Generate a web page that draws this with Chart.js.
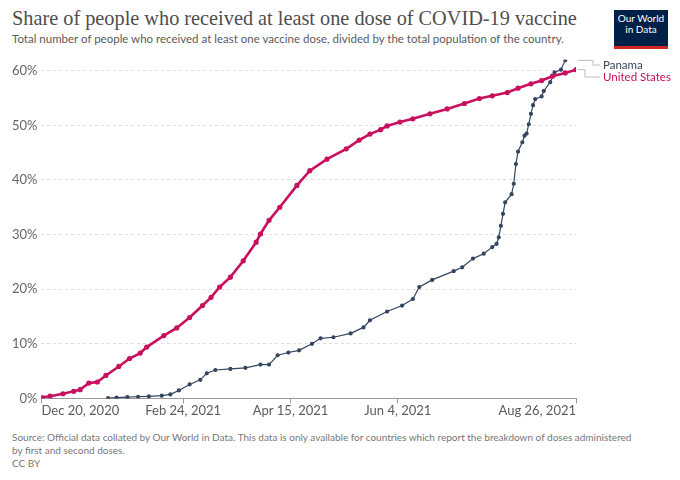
<!DOCTYPE html>
<html>
<head>
<meta charset="utf-8">
<script src="https://cdn.jsdelivr.net/npm/chart.js@4"></script>
<style>
  body { margin: 0; background: #fff; font-family: Lato, sans-serif; }
  #wrap { position: relative; width: 680px; height: 480px; overflow: hidden; }
  #title { position: absolute; left: 12px; top: 7px; font: 20.3px "Liberation Serif", serif; color: #4e4e4e; white-space: nowrap; }
  #subtitle { position: absolute; left: 12px; top: 32px; font-size: 11.5px; color: #5b5b5b; white-space: nowrap; }
  #logo { position: absolute; left: 614px; top: 10px; width: 54px; height: 33px; background: #002147; border-bottom: 3px solid #ce261e;
          color: #fff; font-size: 10px; line-height: 11px; text-align: center; padding-top: 3px; box-sizing: content-box; }
  #chartBox { position: absolute; left: 0; top: 48px; width: 680px; height: 380px; }
  #source { position: absolute; left: 12px; top: 431px; font-size: 10px; line-height: 13px; color: #777; width: 660px; }
</style>
</head>
<body>
<div id="wrap">
  <div id="title">Share of people who received at least one dose of COVID-19 vaccine</div>
  <div id="subtitle">Total number of people who received at least one vaccine dose, divided by the total population of the country.</div>
  <div id="logo">Our World<br>in Data</div>
  <div id="chartBox"><canvas id="vaxChart"></canvas></div>
  <div id="source">Source: Official data collated by Our World in Data. This data is only available for countries which report the breakdown of doses administered<br>by first and second doses.<br>CC BY</div>
</div>
<script>
// days counted from Dec 20, 2020
const xTickDays = [0, 66, 116, 166, 249];
const xTickLabels = ['Dec 20, 2020', 'Feb 24, 2021', 'Apr 15, 2021', 'Jun 4, 2021', 'Aug 26, 2021'];
const yTicks = [0, 10, 20, 30, 40, 50, 60];

const usDays = [0, 4, 10, 15, 18, 22, 26, 30, 36, 41, 46, 49, 57, 63, 69, 75, 79, 83, 88, 94,
  100, 102, 106, 111, 119, 125, 133, 142, 148, 153, 158, 161, 167, 173, 181, 189, 197, 204,
  210, 217, 222, 228, 233, 238, 244, 249];
const usShare = [0.2, 0.4, 0.85, 1.3, 1.6, 2.8, 3.0, 4.2, 5.85, 7.3, 8.3, 9.4, 11.5, 12.9, 14.8, 17.0, 18.5, 20.4, 22.2, 25.2,
  28.6, 30.1, 32.6, 35.0, 39.0, 41.7, 43.8, 45.7, 47.3, 48.4, 49.2, 49.9, 50.6, 51.2, 52.1, 53.0, 54.0, 54.9,
  55.4, 56.0, 56.8, 57.6, 58.2, 59.0, 59.6, 60.2];

const panamaDays = [31, 35, 40, 45, 50, 56, 60, 64, 69, 74, 77, 81, 88, 95, 102, 106, 110, 115, 120, 126,
  130, 136, 144, 150, 153, 161, 168, 173, 176, 182, 192, 196, 201, 206, 210, 212, 213, 214, 215, 216,
  219, 220, 221, 222, 224, 225, 226, 227, 228, 229, 230, 233, 234, 237, 239, 242, 244];
const panamaShare = [0.05, 0.15, 0.24, 0.3, 0.37, 0.5, 0.73, 1.46, 2.56, 3.4, 4.6, 5.2, 5.4, 5.6, 6.2, 6.2, 7.9, 8.4, 8.8, 10.0,
  11.0, 11.2, 11.9, 13.0, 14.3, 15.9, 17.0, 18.2, 20.4, 21.7, 23.3, 24.0, 25.6, 26.5, 27.7, 28.3, 29.5, 31.6, 33.8, 35.9,
  37.4, 39.3, 42.9, 45.2, 46.9, 48.1, 48.5, 50.2, 52.1, 53.7, 54.8, 55.3, 56.3, 57.9, 59.7, 60.2, 61.9];

const usColor = '#c8105e';
const panamaColor = '#34465f';

function toPoints(days, vals) {
    return days.map((d, i) => ({ x: d, y: vals[i] }));
}

// series names at the right end, with the little connector lines
const endLabels = {
    id: 'endLabels',
    afterDatasetsDraw(chart) {
        const ctx = chart.ctx;
        const right = chart.chartArea.right;
        const spots = [{ ds: 1, labelY: 17 }, { ds: 0, labelY: 29 }];
        ctx.save();
        ctx.font = '11.5px Lato';
        ctx.textBaseline = 'middle';
        spots.forEach(s => {
            const dataset = chart.data.datasets[s.ds];
            const pts = chart.getDatasetMeta(s.ds).data;
            const last = pts[pts.length - 1];
            const bendX = s.ds === 1 ? right + 17 : right + 9;
            ctx.strokeStyle = '#bbb';
            ctx.lineWidth = 1;
            ctx.beginPath();
            ctx.moveTo(right + 2, last.y);
            ctx.lineTo(bendX, last.y);
            ctx.lineTo(bendX, s.labelY);
            ctx.lineTo(right + 24, s.labelY);
            ctx.stroke();
            ctx.fillStyle = dataset.borderColor;
            ctx.fillText(dataset.label, right + 27, s.labelY);
        });
        ctx.restore();
    }
};

new Chart(document.getElementById('vaxChart'), {
    type: 'line',
    data: {
        datasets: [{
            label: 'United States',
            data: toPoints(usDays, usShare),
            borderColor: usColor,
            backgroundColor: usColor,
            borderWidth: 2.6,
            pointRadius: 1.3,
            tension: 0
        }, {
            label: 'Panama',
            data: toPoints(panamaDays, panamaShare),
            borderColor: panamaColor,
            backgroundColor: panamaColor,
            borderWidth: 1.2,
            pointRadius: 1.5,
            tension: 0
        }]
    },
    options: {
        responsive: true,
        maintainAspectRatio: false,
        animation: false,
        layout: { padding: { left: 8, right: 104, top: 11, bottom: 9 } },
        plugins: {
            legend: { display: false },
            tooltip: { enabled: false }
        },
        scales: {
            x: {
                type: 'linear',
                min: 0,
                max: 249,
                afterBuildTicks: axis => { axis.ticks = xTickDays.map(v => ({ value: v })); },
                ticks: {
                    autoSkip: false,
                    maxRotation: 0,
                    align: 'inner',
                    padding: 0,
                    color: '#5b5b5b',
                    font: { family: 'Lato', size: 13 },
                    callback: v => xTickLabels[xTickDays.indexOf(v)]
                },
                grid: { drawOnChartArea: false, drawTicks: true, tickLength: 5, color: '#999' },
                border: { display: true, color: '#999', width: 1 }
            },
            y: {
                min: 0,
                max: 62,
                afterBuildTicks: axis => { axis.ticks = yTicks.map(v => ({ value: v })); },
                ticks: {
                    padding: 4,
                    color: '#666',
                    font: { family: 'Lato', size: 13 },
                    callback: v => v + '%'
                },
                grid: {
                    drawTicks: false,
                    color: c => c.tick && c.tick.value === 0 ? 'rgba(0,0,0,0)' : '#ddd'
                },
                border: { display: false, dash: [3, 3] }
            }
        }
    },
    plugins: [endLabels]
});
</script>
</body>
</html>
